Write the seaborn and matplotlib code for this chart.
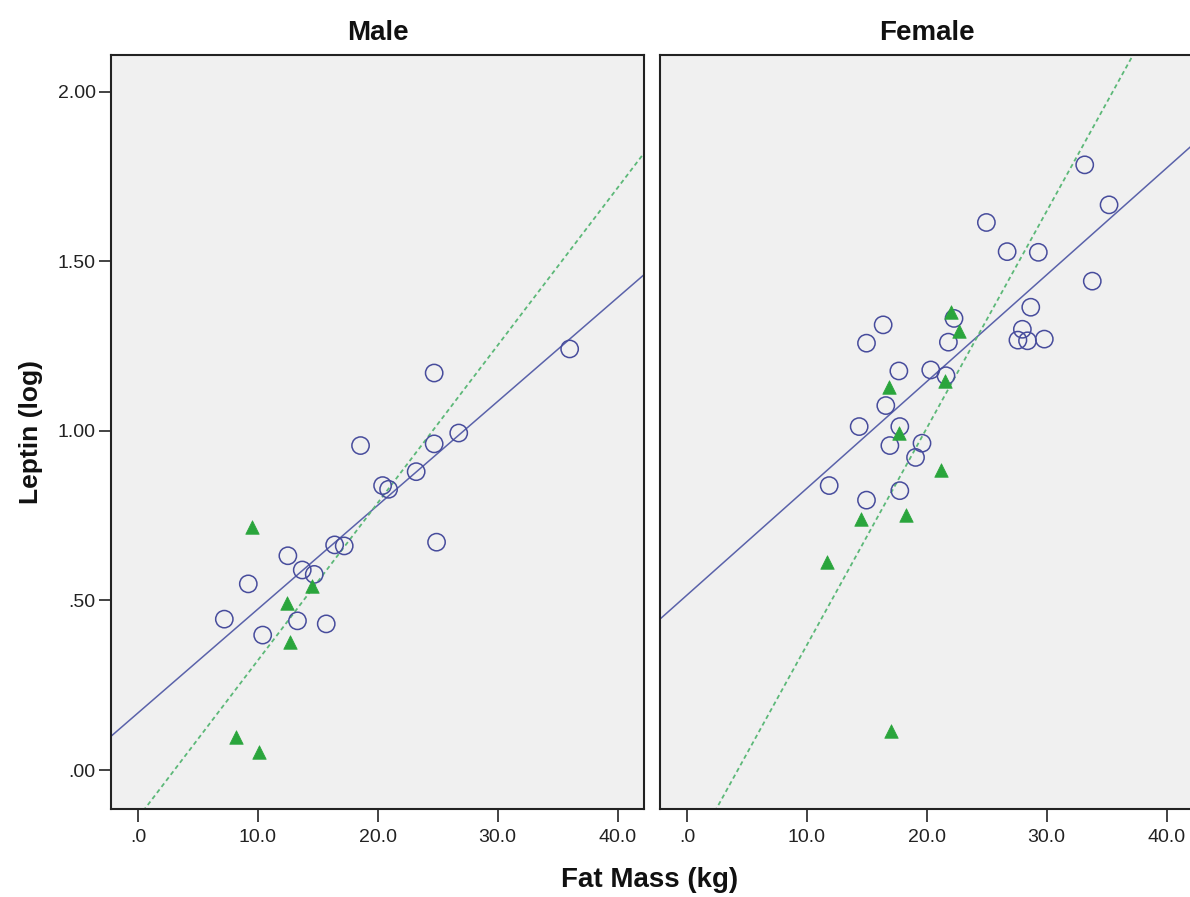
import matplotlib
matplotlib.use("Agg")
import matplotlib.pyplot as plt
import pandas as pd
import seaborn as sns

# ---- data -------------------------------------------------------------
panels = ["Male", "Female"]

male_circle_fat = [24.7, 18.56, 24.7, 23.2, 20.4, 20.9, 24.9, 16.4, 17.2, 12.5,
                   13.7, 14.7, 9.2, 7.2, 10.4, 13.3, 15.7, 26.75, 36.0]
male_circle_leptin = [1.171, 0.957, 0.962, 0.880, 0.839, 0.828, 0.672, 0.664, 0.661, 0.632,
                      0.590, 0.577, 0.549, 0.445, 0.398, 0.440, 0.431, 0.994, 1.242]
male_triangle_fat = [9.47, 12.4, 12.7, 14.5, 8.2, 10.1]
male_triangle_leptin = [0.718, 0.492, 0.379, 0.543, 0.098, 0.054]

female_circle_fat = [33.17, 35.2, 24.97, 26.7, 29.3, 33.8, 28.67, 27.97, 27.6, 28.4,
                     29.8, 16.36, 14.97, 22.27, 21.8, 17.67, 20.33, 21.6, 16.58, 14.36,
                     17.75, 16.92, 19.6, 19.06, 11.86, 14.97, 17.75]
female_circle_leptin = [1.785, 1.667, 1.615, 1.529, 1.527, 1.442, 1.365, 1.300, 1.268, 1.266,
                        1.271, 1.313, 1.259, 1.332, 1.262, 1.177, 1.180, 1.163, 1.075, 1.013,
                        1.013, 0.957, 0.964, 0.922, 0.839, 0.796, 0.824]
female_triangle_fat = [22.0, 22.7, 16.86, 21.5, 17.67, 21.2, 14.5, 18.3, 11.7, 17.0]
female_triangle_leptin = [1.352, 1.296, 1.131, 1.147, 0.993, 0.885, 0.740, 0.752, 0.614, 0.116]

x_ticks = [0, 10, 20, 30, 40]
x_tick_labels = [".0", "10.0", "20.0", "30.0", "40.0"]
y_ticks = [0.0, 0.5, 1.0, 1.5, 2.0]
y_tick_labels = [".00", ".50", "1.00", "1.50", "2.00"]

x_label = "Fat Mass (kg)"
y_label = "Leptin (log)"

# ---- tidy table ---------------------------------------------------------
def block(sex, group, fat, lep):
    return pd.DataFrame({"sex": sex, "group": group, "fat_mass": fat, "leptin": lep})

df = pd.concat([
    block("Male", "circle", male_circle_fat, male_circle_leptin),
    block("Male", "triangle", male_triangle_fat, male_triangle_leptin),
    block("Female", "circle", female_circle_fat, female_circle_leptin),
    block("Female", "triangle", female_triangle_fat, female_triangle_leptin),
], ignore_index=True)

# ---- style --------------------------------------------------------------
sns.set_theme(style="white")
plt.rcParams["font.family"] = ["Liberation Sans", "DejaVu Sans"]

BLUE_EDGE = "#474c9c"
BLUE_LINE = "#5a62aa"
GREEN_FILL = "#2aa53c"
GREEN_LINE = "#5cb878"
PANEL_BG = "#f0f0f0"
INK = "#222222"

XLIM = (-2.25, 42.2)
YLIM = (-0.115, 2.109)

fig = plt.figure(figsize=(11.9, 8.97), dpi=100)
fig.patch.set_facecolor("white")

ax_w, ax_h = 533 / 1190, 754 / 897
bottom = 88 / 897
lefts = [111 / 1190, 660 / 1190]

for i, (sex, left) in enumerate(zip(panels, lefts)):
    ax = fig.add_axes([left, bottom, ax_w, ax_h])
    ax.set_facecolor(PANEL_BG)
    ax.set_xlim(*XLIM)
    ax.set_ylim(*YLIM)
    sub = df[df["sex"] == sex]
    circ = sub[sub["group"] == "circle"]
    tri = sub[sub["group"] == "triangle"]

    # fit lines span the whole x range of the panel
    sns.regplot(data=circ, x="fat_mass", y="leptin", scatter=False, ci=None,
                truncate=False, color=BLUE_LINE, ax=ax,
                line_kws=dict(lw=1.1, zorder=2))
    sns.regplot(data=tri, x="fat_mass", y="leptin", scatter=False, ci=None,
                truncate=False, color=GREEN_LINE, ax=ax,
                line_kws=dict(lw=1.3, ls=(0, (2.4, 1.8)), zorder=2))

    sns.scatterplot(data=circ, x="fat_mass", y="leptin", marker="o", s=155,
                    color="none", edgecolor=BLUE_EDGE, linewidth=1.1,
                    ax=ax, zorder=3, legend=False)
    sns.scatterplot(data=tri, x="fat_mass", y="leptin", marker="^", s=95,
                    color=GREEN_FILL, edgecolor=GREEN_FILL, linewidth=0.5,
                    ax=ax, zorder=4, legend=False)

    ax.set_xlim(*XLIM)
    ax.set_ylim(*YLIM)
    ax.set_xticks(x_ticks)
    ax.set_xticklabels(x_tick_labels)
    ax.set_yticks(y_ticks)
    if i == 0:
        ax.set_yticklabels(y_tick_labels)
        ax.tick_params(axis="y", left=True, direction="out", length=9,
                       width=1.2, pad=2, labelsize=14, colors=INK)
    else:
        ax.tick_params(axis="y", left=False, labelleft=False)
    ax.tick_params(axis="x", bottom=True, direction="out", length=9.5,
                   width=1.2, pad=5, labelsize=14, colors=INK)
    ax.set_xlabel("")
    ax.set_ylabel("")
    for sp in ax.spines.values():
        sp.set_visible(True)
        sp.set_color(INK)
        sp.set_linewidth(1.5)
    ax.set_title(sex, fontsize=20, fontweight="bold", pad=11, color="#111111")

fig.text(650 / 1190, 1 - 880 / 897, x_label, ha="center", va="center",
         fontsize=20, fontweight="bold", color="#111111")
fig.text(31 / 1190, 1 - 432 / 897, y_label, ha="center", va="center",
         rotation=90, fontsize=19, fontweight="bold", color="#111111")

fig.savefig("out.png", dpi=100)
